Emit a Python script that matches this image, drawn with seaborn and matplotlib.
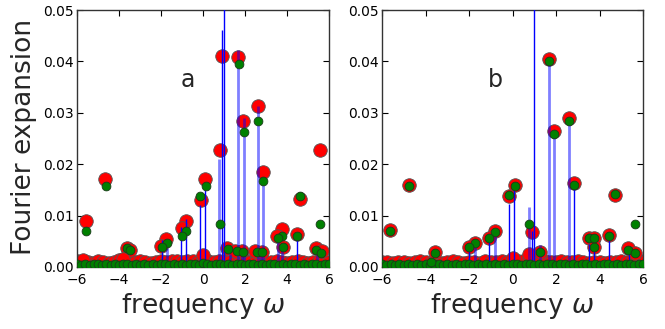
import numpy as np
import pandas as pd
import matplotlib
matplotlib.use("Agg")
import matplotlib.pyplot as plt
import seaborn as sns

sns.set_style("ticks")
plt.rcParams['font.family'] = ['DejaVu Sans']
plt.rcParams['mathtext.fontset'] = 'dejavusans'

# ---------------- panel a ----------------
a_red_x = [0.91, 1.68, 2.62, 1.92, 0.82, 5.57, 2.86, -4.66, 0.11, -0.10, 4.64, -5.57, -0.80, -1.02,
           3.74, 3.52, 4.48, -1.76, -2.00, -3.63, -3.47, 3.81, 1.12, 1.52, 1.84, 2.48, 2.80, 5.36,
           5.68, 0.00, -5.73, -3.81]
a_red_y = [0.0410, 0.0408, 0.0314, 0.0284, 0.0227, 0.0227, 0.0185, 0.0171, 0.0171, 0.0131, 0.0132,
           0.0090, 0.0090, 0.0075, 0.0074, 0.0061, 0.0065, 0.0055, 0.0040, 0.0036, 0.0034, 0.0039,
           0.0036, 0.0032, 0.0031, 0.0031, 0.0030, 0.0036, 0.0031, 0.0024, 0.0013, 0.0016]
a_green_x = [1.71, 2.62, 1.95, 2.88, -4.64, 0.13, -0.13, 4.64, 0.80, 5.57, -5.57, -0.80, -1.02, 3.74,
             3.55, 4.48, -1.71, -1.97, -3.63, -3.47, 3.81, 1.20, 1.60, 1.89, 2.56, 2.80, 5.39, 5.60]
a_green_y = [0.0394, 0.0284, 0.0262, 0.0167, 0.0158, 0.0158, 0.0138, 0.0138, 0.0084, 0.0084, 0.0071,
             0.0071, 0.0060, 0.0060, 0.0056, 0.0060, 0.0047, 0.0038, 0.0036, 0.0034, 0.0038, 0.0035,
             0.0031, 0.0029, 0.0030, 0.0029, 0.0034, 0.0027]
a_stem_x = [1.01, 0.91, -0.80, -1.06, -0.13, 0.11, -1.97, 4.48]
a_stem_y = [0.0600, 0.0462, 0.0094, 0.0078, 0.0120, 0.0149, 0.0052, 0.0055]
a_stem2_x = [0.77, 1.68, 1.94, 2.62, 2.86, -1.73, 3.55, 3.78, 1.28, 1.84, 2.77, 5.44]
a_stem2_y = [0.0211, 0.0422, 0.0289, 0.0313, 0.0175, 0.0036, 0.0053, 0.0042, 0.0026, 0.0023,
             0.0023, 0.0023]

# ---------------- panel b ----------------
b_red_x = [1.69, 2.60, 1.91, 2.82, -4.74, 0.11, -0.15, 4.72, 0.88, -5.63, -0.82, -1.09, 4.42, 3.54,
           3.77, 3.77, -1.74, -2.00, -3.58, 1.26, 5.31, 5.62, 0.77, 0.00]
b_red_y = [0.0404, 0.0290, 0.0264, 0.0164, 0.0160, 0.0160, 0.0139, 0.0140, 0.0068, 0.0072, 0.0071,
           0.0057, 0.0062, 0.0056, 0.0057, 0.0038, 0.0047, 0.0038, 0.0030, 0.0029, 0.0036, 0.0027,
           0.0025, 0.0018]
b_green_x = [1.69, 2.60, 1.91, 2.82, -4.74, 0.11, -0.15, 4.72, 0.77, 5.62, -5.63, -0.82, -1.09, 4.42,
             3.54, 3.77, 3.77, -1.74, -2.00, -3.56, 1.26, 5.31, 5.62, -3.74]
b_green_y = [0.0401, 0.0284, 0.0258, 0.0160, 0.0158, 0.0158, 0.0141, 0.0142, 0.0084, 0.0084, 0.0070,
             0.0069, 0.0057, 0.0060, 0.0056, 0.0056, 0.0038, 0.0047, 0.0038, 0.0028, 0.0029, 0.0034,
             0.0027, 0.0010]
b_stem_x = [1.00, 0.88, -0.15, 0.08, -1.09, -2.00, 3.54, 3.77, 4.42, 5.34, 2.82]
b_stem_y = [0.0600, 0.0070, 0.0123, 0.0149, 0.0052, 0.0032, 0.0045, 0.0032, 0.0052, 0.0026, 0.0156]
b_stem2_x = [0.77, 1.69, 1.91, 2.60, -0.82, -1.74, 1.26]
b_stem2_y = [0.0117, 0.0400, 0.0260, 0.0290, 0.0071, 0.0045, 0.0042]

# ---------------- baseline band (both panels) ----------------
base_red_x = np.linspace(-6, 6, 49)
a_base_red_y = [0.0012, 0.0010, 0.0009, 0.0008, 0.0011, 0.0009, 0.0008, 0.0010, 0.0013, 0.0009,
                0.0008, 0.0010, 0.0012, 0.0009, 0.0008, 0.0009, 0.0011, 0.0010, 0.0012, 0.0011,
                0.0010, 0.0012, 0.0011, 0.0009, 0.0013, 0.0012, 0.0010, 0.0011, 0.0012, 0.0009,
                0.0010, 0.0012, 0.0011, 0.0010, 0.0012, 0.0009, 0.0008, 0.0010, 0.0012, 0.0009,
                0.0008, 0.0010, 0.0011, 0.0009, 0.0008, 0.0010, 0.0012, 0.0010, 0.0009]
b_base_red_y = [0.0009, 0.0010, 0.0008, 0.0009, 0.0010, 0.0008, 0.0009, 0.0011, 0.0009, 0.0008,
                0.0010, 0.0008, 0.0009, 0.0011, 0.0009, 0.0008, 0.0010, 0.0009, 0.0008, 0.0011,
                0.0010, 0.0009, 0.0012, 0.0010, 0.0013, 0.0011, 0.0012, 0.0015, 0.0012, 0.0010,
                0.0011, 0.0009, 0.0010, 0.0012, 0.0010, 0.0009, 0.0011, 0.0009, 0.0008, 0.0010,
                0.0009, 0.0008, 0.0010, 0.0009, 0.0011, 0.0009, 0.0012, 0.0013, 0.0010]
base_green_x = np.linspace(-6, 6, 61)
a_base_green_y = [0.0006, 0.0004, 0.0005, 0.0003, 0.0005, 0.0006, 0.0004, 0.0005, 0.0003, 0.0005,
                  0.0004, 0.0006, 0.0005, 0.0003, 0.0005, 0.0004, 0.0006, 0.0004, 0.0005, 0.0003,
                  0.0005, 0.0006, 0.0004, 0.0005, 0.0003, 0.0005, 0.0004, 0.0006, 0.0005, 0.0004,
                  0.0007, 0.0005, 0.0004, 0.0006, 0.0005, 0.0003, 0.0005, 0.0004, 0.0006, 0.0005,
                  0.0004, 0.0006, 0.0005, 0.0003, 0.0005, 0.0004, 0.0006, 0.0005, 0.0003, 0.0005,
                  0.0004, 0.0006, 0.0005, 0.0003, 0.0005, 0.0004, 0.0006, 0.0005, 0.0004, 0.0005,
                  0.0006]
b_base_green_y = [0.0005, 0.0004, 0.0006, 0.0003, 0.0005, 0.0004, 0.0005, 0.0003, 0.0006, 0.0004,
                  0.0005, 0.0003, 0.0005, 0.0006, 0.0004, 0.0005, 0.0003, 0.0005, 0.0004, 0.0006,
                  0.0005, 0.0003, 0.0005, 0.0004, 0.0006, 0.0004, 0.0005, 0.0003, 0.0005, 0.0004,
                  0.0006, 0.0005, 0.0004, 0.0006, 0.0005, 0.0003, 0.0005, 0.0004, 0.0006, 0.0005,
                  0.0004, 0.0006, 0.0005, 0.0003, 0.0005, 0.0004, 0.0006, 0.0005, 0.0003, 0.0005,
                  0.0004, 0.0006, 0.0005, 0.0003, 0.0005, 0.0004, 0.0006, 0.0005, 0.0004, 0.0005,
                  0.0006]

panel_labels = ["a", "b"]
x_ticks = [-6, -4, -2, 0, 2, 4, 6]
y_ticks = [0.00, 0.01, 0.02, 0.03, 0.04, 0.05]

fig = plt.figure(figsize=(6.65, 3.29), dpi=100)
ax_a = fig.add_axes([77 / 665, 62 / 329, 252 / 665, 257 / 329])
ax_b = fig.add_axes([382 / 665, 62 / 329, 261 / 665, 257 / 329])

panels = [
    (ax_a, a_red_x, a_red_y, a_green_x, a_green_y, a_stem_x, a_stem_y, a_stem2_x, a_stem2_y,
     a_base_red_y, a_base_green_y, (0.44, 0.728)),
    (ax_b, b_red_x, b_red_y, b_green_x, b_green_y, b_stem_x, b_stem_y, b_stem2_x, b_stem2_y,
     b_base_red_y, b_base_green_y, (0.433, 0.728)),
]

for i, (ax, rx, ry, gx, gy, sx, sy, s2x, s2y, bry, bgy, lpos) in enumerate(panels):
    red = pd.DataFrame({"x": list(base_red_x) + rx, "y": list(bry) + ry})
    green = pd.DataFrame({"x": list(base_green_x) + gx, "y": list(bgy) + gy})
    sns.scatterplot(data=red, x="x", y="y", ax=ax, color="red", s=95, edgecolor="#555555",
                    linewidth=0.6, zorder=2, legend=False)
    ax.vlines(s2x, 0, s2y, colors="blue", linewidth=2.0, alpha=0.5, zorder=3)
    ax.vlines(sx, 0, sy, colors="blue", linewidth=1.0, zorder=3)
    sns.scatterplot(data=green, x="x", y="y", ax=ax, color="green", s=40, edgecolor="#1a3a1a",
                    linewidth=0.6, zorder=4, legend=False)
    ax.set_xlim(-6, 6)
    ax.set_ylim(0, 0.05)
    ax.set_xticks(x_ticks)
    ax.set_yticks(y_ticks)
    ax.set_yticklabels([f"{v:.2f}" for v in y_ticks])
    ax.set_xticklabels([f"{v}".replace("-", "\u2212") for v in x_ticks])
    ax.tick_params(direction="in", top=True, right=True, length=4, width=0.8, labelsize=10,
                   colors="black")
    ax.tick_params(axis="x", pad=4)
    ax.tick_params(axis="y", pad=2)
    for sp in ax.spines.values():
        sp.set_color("#333333")
        sp.set_linewidth(1.0)
    ax.set_xlabel("")
    ax.set_ylabel("")
    ax.text(lpos[0], lpos[1], panel_labels[i], transform=ax.transAxes, fontsize=17,
            ha="center", va="center")

fig.text(24 / 665, 1 - 137 / 329, "Fourier expansion", rotation=90, fontsize=19,
         ha="center", va="center")
fig.text(203 / 665, 1 - 306 / 329, r"frequency $\omega$", fontsize=19, ha="center", va="center")
fig.text(512 / 665, 1 - 306 / 329, r"frequency $\omega$", fontsize=19, ha="center", va="center")

fig.savefig("out.png", dpi=100)
